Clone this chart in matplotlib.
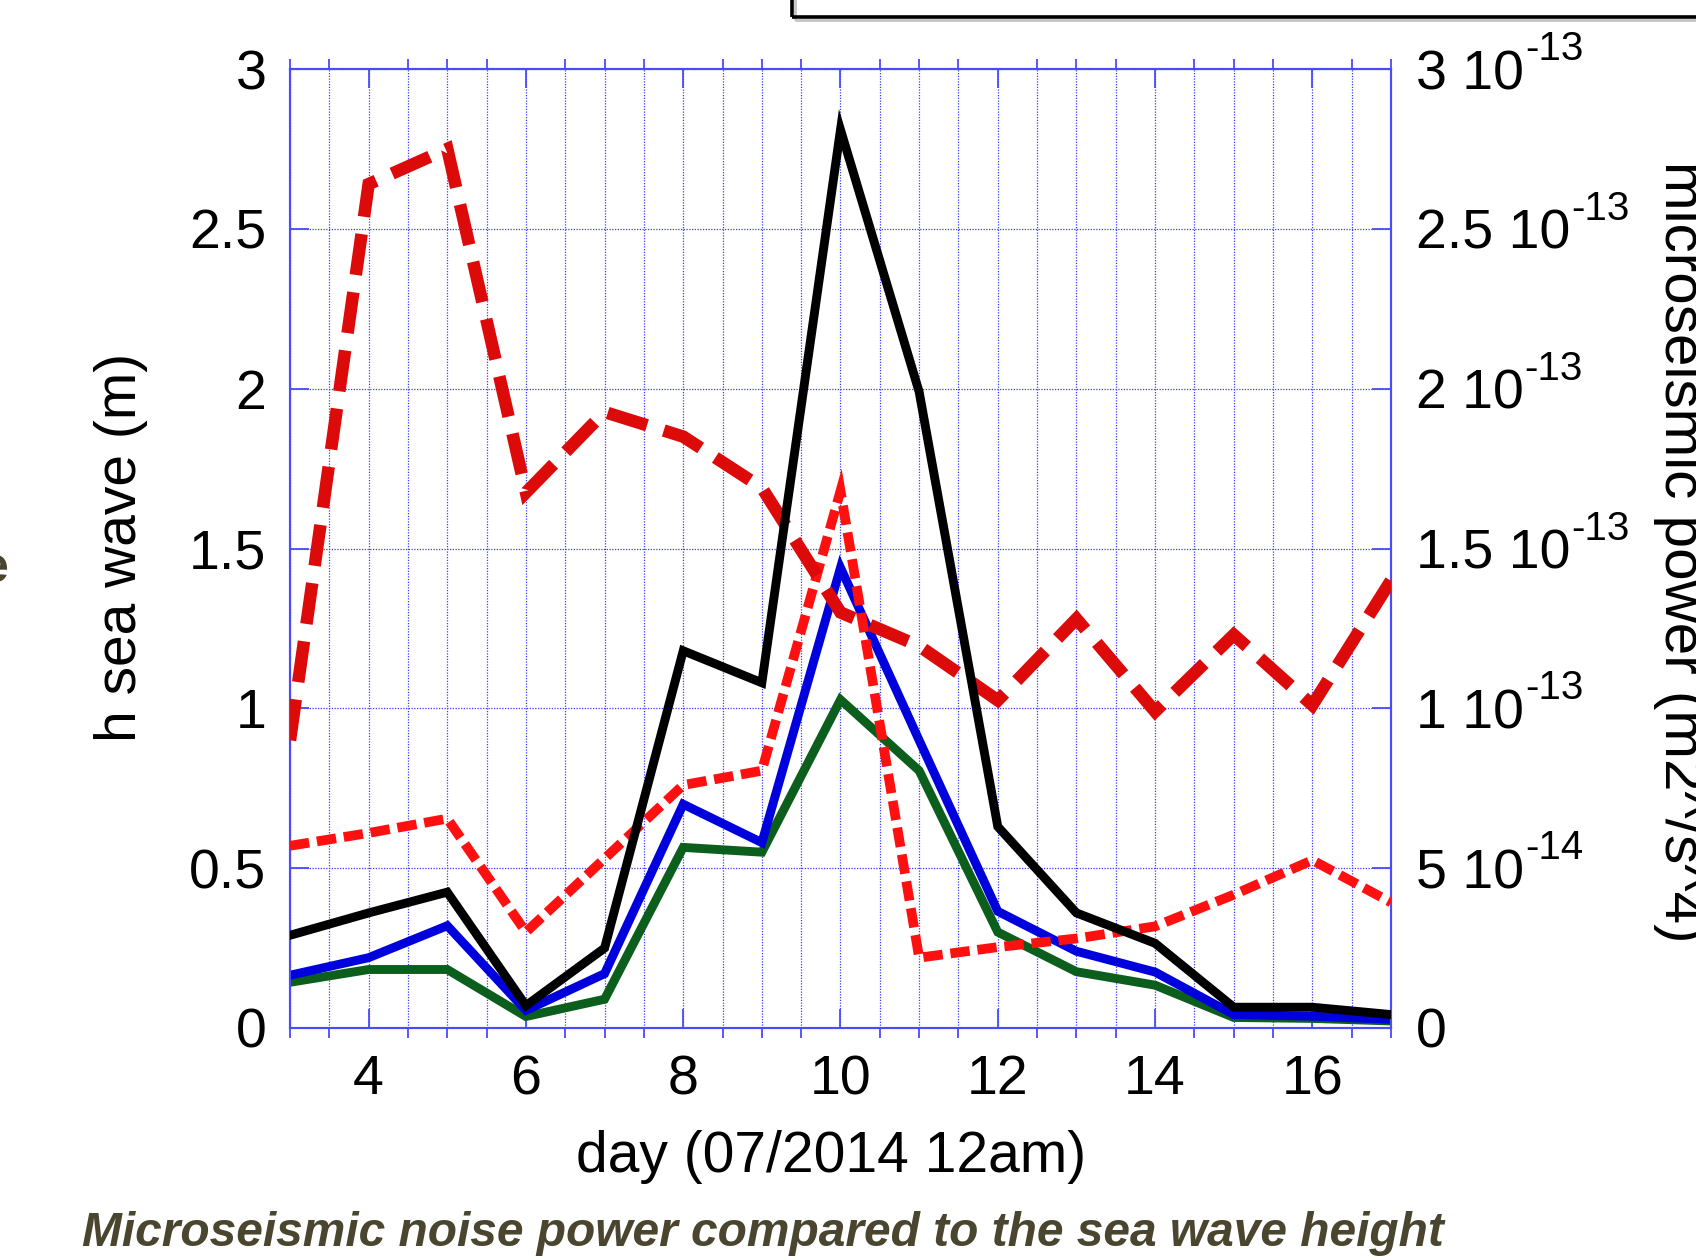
import numpy as np
import matplotlib
matplotlib.use("Agg")
import matplotlib.pyplot as plt
from matplotlib.ticker import FixedLocator, MultipleLocator, FuncFormatter
from matplotlib.transforms import IdentityTransform
from matplotlib.patches import Rectangle

plt.rcParams["font.family"] = ["Liberation Sans", "DejaVu Sans"]

# ---- data -------------------------------------------------------------
days = [3, 4, 5, 6, 7, 8, 9, 10, 11, 12, 13, 14, 15, 16, 17]

# sea wave height (m), left axis
wave_black = [0.29, 0.36, 0.425, 0.07, 0.25, 1.18, 1.08, 2.81, 1.99, 0.63, 0.36, 0.265, 0.065, 0.065, 0.042]
wave_blue = [0.165, 0.22, 0.32, 0.055, 0.17, 0.70, 0.58, 1.44, 0.90, 0.365, 0.24, 0.175, 0.042, 0.037, 0.027]
wave_green = [0.143, 0.183, 0.183, 0.036, 0.09, 0.565, 0.55, 1.027, 0.805, 0.30, 0.176, 0.134, 0.033, 0.030, 0.022]

# microseismic power (m^2/s^4), right axis
power_long = [0.90e-13, 2.64e-13, 2.75e-13, 1.675e-13, 1.927e-13, 1.85e-13, 1.69e-13, 1.30e-13,
              1.195e-13, 1.025e-13, 1.28e-13, 0.99e-13, 1.23e-13, 1.01e-13, 1.40e-13]
power_short = [0.57e-13, 0.61e-13, 0.655e-13, 0.30e-13, 0.53e-13, 0.76e-13, 0.805e-13, 1.68e-13,
               0.22e-13, 0.253e-13, 0.28e-13, 0.318e-13, 0.417e-13, 0.525e-13, 0.393e-13]

x_major = [4, 6, 8, 10, 12, 14, 16]
x_minor = [3, 3.5, 4.5, 5, 5.5, 6.5, 7, 7.5, 8.5, 9, 9.5, 10.5, 11, 11.5, 12.5, 13, 13.5,
           14.5, 15, 15.5, 16.5, 17]
right_ticks = [0, 0.5e-13, 1e-13, 1.5e-13, 2e-13, 2.5e-13, 3e-13]
right_main = ["0", "5 10", "1 10", "1.5 10", "2 10", "2.5 10", "3 10"]
right_exp = ["", "-14", "-13", "-13", "-13", "-13", "-13"]

# ---- figure -----------------------------------------------------------
W, H = 1696, 1260
fig = plt.figure(figsize=(W / 100, H / 100), dpi=100)
ax = fig.add_axes([290 / W, 1 - 1028 / H, 1101 / W, 959 / H])
ax2 = ax.twinx()

AX_BLUE = "#4a4aff"
GRID_BLUE = "#3c3cff"
OLIVE = "#4a452e"

ax.set_xlim(3, 17)
ax.set_ylim(0, 3)
ax2.set_ylim(0, 3e-13)

lw_solid = 6.4
ax.plot(days, wave_green, color="#0b5e1b", lw=lw_solid, solid_joinstyle="miter", zorder=3)
ax.plot(days, wave_blue, color="#0000dd", lw=lw_solid, solid_joinstyle="miter", zorder=4)

ax2.plot(days, power_short, color="#ff1010", lw=7.0, dashes=(2.0, 0.8),
         dash_joinstyle="miter", zorder=3)
ax2.plot(days, power_long, color="#dd0a0a", lw=9.0, dashes=(3.3, 1.4),
         dash_joinstyle="miter", zorder=4)
# black wave curve uses the left-axis scale but is layered above the power curves
ax2.plot(days, wave_black, color="black", lw=lw_solid, solid_joinstyle="miter", zorder=5,
         transform=ax.transData)
ax2.set_ylim(0, 3e-13)

# x axis ticks and grid
ax.xaxis.set_major_locator(FixedLocator(x_major))
ax.xaxis.set_minor_locator(FixedLocator(x_minor))
ax.tick_params(axis="x", which="major", direction="in", length=14, width=1.3,
               color=AX_BLUE, top=True, bottom=True, labelsize=40, pad=19)
ax.tick_params(axis="x", which="minor", direction="out", length=7, width=1.3,
               color=AX_BLUE, top=True, bottom=True)

# left y axis
ax.yaxis.set_major_locator(MultipleLocator(0.5))
ax.yaxis.set_major_formatter(FuncFormatter(lambda v, p: "%g" % v))
ax.tick_params(axis="y", which="major", direction="in", length=14, width=1.3,
               color=AX_BLUE, left=True, right=False, labelsize=40, pad=17)

ax.grid(which="both", axis="x", color=GRID_BLUE, lw=0.9, ls=(0, (1, 1.2)))
ax.grid(which="major", axis="y", color=GRID_BLUE, lw=0.9, ls=(0, (1, 1.2)))
ax.set_axisbelow(True)

# right y axis
ax2.yaxis.set_major_locator(FixedLocator(right_ticks))
ax2.set_yticklabels(right_main)
ax2.tick_params(axis="y", which="major", direction="in", length=14, width=1.3,
                color=AX_BLUE, labelsize=40, pad=18)

for a in (ax, ax2):
    for s in a.spines.values():
        s.set_color(AX_BLUE)
        s.set_linewidth(1.5)

# axis titles
fig.text(831 / W, 1 - 1157 / H, "day (07/2014 12am)", ha="center", va="center", fontsize=41)
fig.text(121 / W, 1 - 547 / H, "h sea wave (m)", rotation=90, ha="center", va="center", fontsize=41)
fig.text(1680 / W, 1 - 552 / H, "microseismic power (m2^/s^4)", rotation=-90,
         ha="center", va="center", fontsize=42)

# caption
fig.text(763 / W, 1 - 1246 / H, "Microseismic noise power compared to the sea wave height",
         ha="center", va="baseline", fontsize=34.5, fontweight="bold", fontstyle="italic",
         color=OLIVE)
fig.text(9 / W, 1 - 582 / H, "e", ha="right", va="baseline", fontsize=36,
         fontweight="bold", color=OLIVE)

# framed box along the top edge
fig.add_artist(Rectangle((795, H - 20), 1100, 200, fill=False, lw=2.0, ec="#c4c4c4",
                         transform=IdentityTransform()))
fig.add_artist(Rectangle((792, H - 17), 1100, 200, fill=False, lw=2.6, ec="black",
                         transform=IdentityTransform()))

# exponents on the right tick labels
fig.canvas.draw()
renderer = fig.canvas.get_renderer()
for lab, val, ex in zip(ax2.get_yticklabels(), right_ticks, right_exp):
    if not ex:
        continue
    bb = lab.get_window_extent(renderer)
    yt = ax2.transData.transform((0, val))[1]
    fig.text(bb.x1 + 1, yt + 9, ex, transform=IdentityTransform(), fontsize=29,
             ha="left", va="baseline")

fig.savefig("out.png", dpi=100)
